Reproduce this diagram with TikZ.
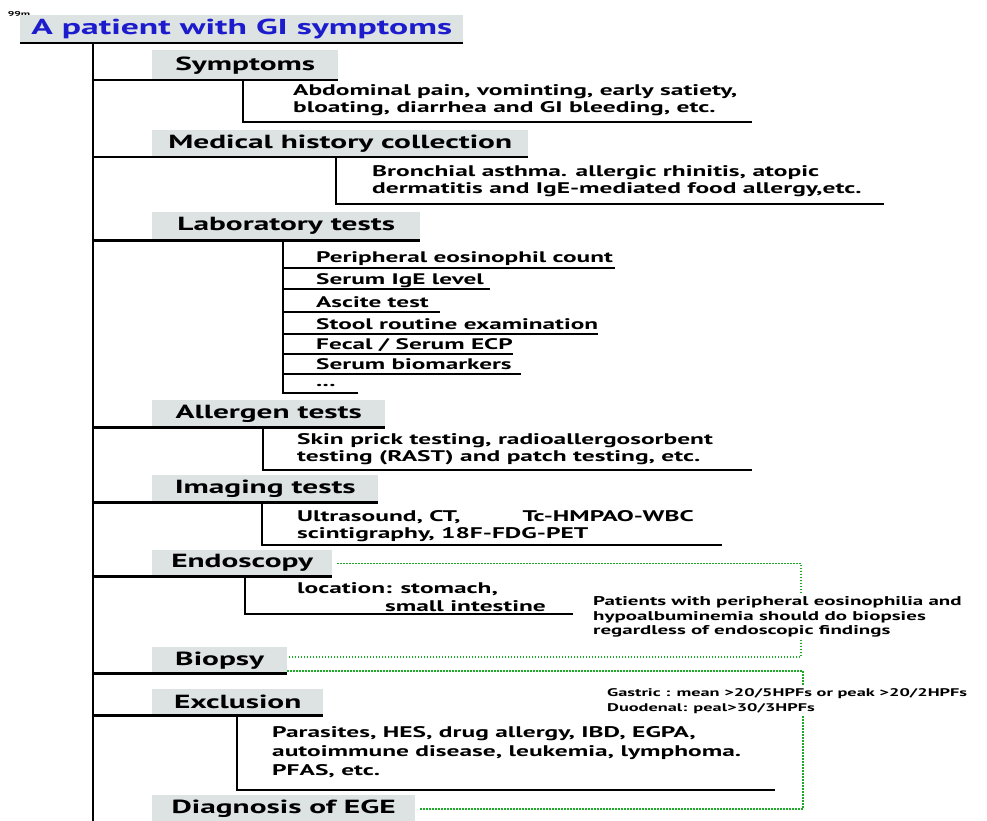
\documentclass[tikz,border=0pt]{standalone}
\usepackage{fontspec}
\setmainfont{PT Sans}[FakeStretch=1.65]
\usetikzlibrary{calc}

\definecolor{boxgray}{RGB}{221,226,226}
\definecolor{titleblue}{RGB}{28,28,205}
\definecolor{dotgreen}{RGB}{30,170,40}

\tikzset{
  hdr/.style={fill=boxgray,anchor=north west,inner sep=0pt,minimum height=27pt,font=\fontsize{19}{22}\selectfont\bfseries},
  detail/.style={anchor=west,align=left,inner sep=0pt,font=\fontsize{15.4}{17.5}\selectfont\bfseries},
  labitem/.style={anchor=base west,inner sep=0pt,font=\fontsize{15.3}{17}\selectfont\bfseries},
  note/.style={anchor=west,align=left,fill=white,inner sep=2pt,font=\fontsize{12.7}{14.5}\selectfont\bfseries},
  branch/.style={line width=2.2pt},
  dots/.style={dotgreen,line width=1.4pt,dash pattern=on 1.5pt off 1.5pt}
}

\begin{document}
\begin{tikzpicture}[x=1pt,y=-1pt]
          \useasboundingbox (0,0) rectangle (987,821);
          % headers
          \node[font=\fontsize{7}{7}\selectfont\bfseries,inner sep=0pt] (sup) at (19,14) {99m};
          \node[hdr,minimum width=443pt,minimum height=28pt,text=titleblue,font=\fontsize{21.6}{24}\selectfont\bfseries] (H) at (20,15) {A patient with GI symptoms};
          \node[hdr,minimum width=186pt,minimum height=30pt] (S) at (152,50) {Symptoms};
          \node[hdr,minimum width=376pt] (M) at (152,130) {Medical history collection};
          \node[hdr,minimum width=268pt,minimum height=28pt] (L) at (152,212) {Laboratory tests};
          \node[hdr,minimum width=233pt] (A) at (152,400) {Allergen tests};
          \node[hdr,minimum width=226pt] (I) at (152,475) {Imaging tests};
          \node[hdr,minimum width=180pt,minimum height=26pt] (E) at (152,550) {Endoscopy};
          \node[hdr,minimum width=135pt,minimum height=26pt] (B) at (152,647) {Biopsy};
          \node[hdr,minimum width=171pt,minimum height=26pt] (X) at (152,689) {Exclusion};
          \node[hdr,minimum width=263pt,minimum height=28pt] (D) at (152,795) {Diagnosis of EGE};
          % details
          \node[detail] (Sd) at (293,100) {Abdominal pain, vominting, early satiety,\\bloating, diarrhea and GI bleeding, etc.};
          \node[detail] (Md) at (372,181) {Bronchial asthma. allergic rhinitis, atopic\\dermatitis and IgE-mediated food allergy,etc.};
          \node[labitem] (L1t) at (316,262) {Peripheral eosinophil count};
          \node[labitem] (L2t) at (316,284) {Serum IgE level};
          \node[labitem] (L3t) at (316,307) {Ascite test};
          \node[labitem] (L4t) at (316,329) {Stool routine examination};
          \node[labitem] (L5t) at (316,349) {Fecal / Serum ECP};
          \node[labitem] (L6t) at (316,369) {Serum biomarkers};
          \node[labitem] (L7t) at (316,386) {...};
          \node[detail] (Ad) at (297,449) {Skin prick testing, radioallergosorbent\\testing (RAST) and patch testing, etc.};
          \node[detail] (Id) at (297,526) {Ultrasound, CT,\hspace{62pt}Tc-HMPAO-WBC\\scintigraphy, 18F-FDG-PET};
          \node[detail] (Ed) at (297,597) {location: stomach,\\\hspace*{88pt}small intestine};
          \node[detail,font=\fontsize{15.4}{19}\selectfont\bfseries] (Xd) at (272,752) {Parasites, HES, drug allergy, IBD, EGPA,\\autoimmune disease, leukemia, lymphoma.\\PFAS, etc.};
          % corners
          \coordinate (bot) at (93,821);
          \coordinate (S1) at (752,122);
          \coordinate (M1) at (884,204);
          \coordinate (L0) at (283,393);
          \coordinate (L1) at (615,268);
          \coordinate (L2) at (490,289);
          \coordinate (L3) at (440,312);
          \coordinate (L4) at (598,334);
          \coordinate (L5) at (513,354);
          \coordinate (L6) at (521,374);
          \coordinate (L7) at (358,393);
          \coordinate (A1) at (752,470);
          \coordinate (I1) at (722,545);
          \coordinate (E1) at (573,614);
          \coordinate (X1) at (775,790);
          \coordinate (g2) at (801,657);
          \coordinate (g3) at (803,671);
          \coordinate (g4) at (803,809);
          % trunk
          \draw[branch] (H.south west) -- (H.south east);
          \draw[branch] (H.south -| bot) -- (bot);
          \draw[branch] (S.south east -| bot) -- (S.south east);
          \draw[branch] (M.south east -| bot) -- (M.south east);
          \draw[branch] (L.south east -| bot) -- (L.south east);
          \draw[branch] (A.south east -| bot) -- (A.south east);
          \draw[branch] (I.south east -| bot) -- (I.south east);
          \draw[branch] (E.south east -| bot) -- (E.south east);
          \draw[branch] (B.south east -| bot) -- (B.south east);
          \draw[branch] (X.south east -| bot) -- (X.south east);
          % branches
          \draw[branch] (S.south -| 243,0) |- (S1);
          \draw[branch] (M.south -| 336,0) |- (M1);
          \draw[branch] (L.south -| L0) -- (L0) -- (L7);
          \draw[branch] (L0 |- L1) -- (L1);
          \draw[branch] (L0 |- L2) -- (L2);
          \draw[branch] (L0 |- L3) -- (L3);
          \draw[branch] (L0 |- L4) -- (L4);
          \draw[branch] (L0 |- L5) -- (L5);
          \draw[branch] (L0 |- L6) -- (L6);
          \draw[branch] (A.south -| 263,0) |- (A1);
          \draw[branch] (I.south -| 262,0) |- (I1);
          \draw[branch] (E.south -| 245,0) |- (E1);
          \draw[branch] (X.south -| 237,0) |- (X1);
          % dotted brackets
          \draw[dots] ([xshift=5pt]E.east) -| (g2) -- (B.east |- g2);
          \draw[dots] (B.east |- g3) -| (g4) -- ([xshift=5pt]D.east |- g4);
          \node[note] (N1) at (591,617) {Patients with peripheral eosinophilia and\\hypoalbuminemia should do biopsies\\regardless of endoscopic findings};
          \node[note,font=\fontsize{11.1}{15}\selectfont\bfseries] (N2) at (605,701) {Gastric : mean >20/5HPFs or peak >20/2HPFs\\Duodenal: peal>30/3HPFs};
        \end{tikzpicture}
\end{document}
